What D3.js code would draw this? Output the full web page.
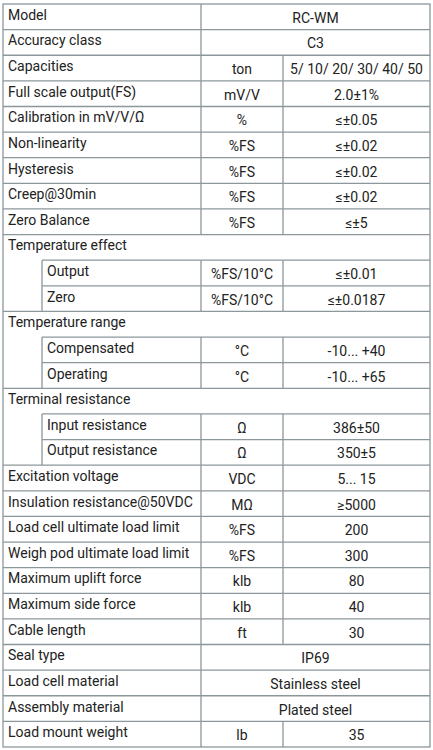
<!DOCTYPE html>
<html><head><meta charset="utf-8">
<script src="https://cdn.jsdelivr.net/npm/d3@7"></script>
<style>body{margin:0;background:#fff}</style></head><body>
<svg id="c" width="433" height="750"></svg>
<script>
const labels=["Model","Accuracy class","Capacities","Full scale output(FS)","Calibration in mV/V/Ω","Non-linearity","Hysteresis","Creep@30min","Zero Balance","Temperature effect","Output","Zero","Temperature range","Compensated","Operating","Terminal resistance","Input resistance","Output resistance","Excitation voltage","Insulation resistance@50VDC","Load cell ultimate load limit","Weigh pod ultimate load limit","Maximum uplift force","Maximum side force","Cable length","Seal type","Load cell material","Assembly material","Load mount weight"];
const units=["","","ton","mV/V","%","%FS","%FS","%FS","%FS","","%FS/10°C","%FS/10°C","","°C","°C","","Ω","Ω","VDC","MΩ","%FS","%FS","klb","klb","ft","","","","lb"];
const values=["RC-WM","C3","5/ 10/ 20/ 30/ 40/ 50","2.0±1%","≤±0.05","≤±0.02","≤±0.02","≤±0.02","≤±5","","≤±0.01","≤±0.0187","","-10... +40","-10... +65","","386±50","350±5","5... 15","≥5000","200","300","80","40","30","IP69","Stainless steel","Plated steel","35"];
// kind: n normal, m merged value, h header, s sub-row
const kinds=["m","m","n","n","n","n","n","n","n","h","s","s","h","s","s","h","s","s","n","n","n","n","n","n","n","m","m","m","n"];
const cols=["edge","indent","unit","value","end"];
const x=d3.scaleOrdinal().domain(cols).range([3,42,201,283,430]);
const y=d3.scaleBand().domain(d3.range(labels.length)).range([4,747]);
const svg=d3.select("#c");
const col="#8c979c", sw=1.3;
const g=svg.append("g").attr("stroke",col).attr("stroke-width",sw);
const rows=d3.range(labels.length);
const line=(x1,y1,x2,y2)=>g.append("line").attr("x1",x1).attr("y1",y1).attr("x2",x2).attr("y2",y2);
// outer
g.append("rect").attr("x",x("edge")).attr("y",y(0)).attr("width",x("end")-x("edge")).attr("height",y.range()[1]-y(0)).attr("fill","none");
rows.forEach(i=>{
  const t=y(i),b=t+y.bandwidth(),k=kinds[i];
  if(i>0){
    const nextIsSub=k==="s";
    line(nextIsSub?x("indent"):x("edge"),t,x("end"),t);
  }
  if(k==="s") line(x("indent"),t,x("indent"),b);
  if(k==="n"||k==="s"){line(x("unit"),t,x("unit"),b);line(x("value"),t,x("value"),b);}
  if(k==="m") line(x("unit"),t,x("unit"),b);
});
const tg=svg.append("g").attr("font-family","Roboto, 'Liberation Sans', sans-serif").attr("font-size",14).attr("fill","#222");
rows.forEach(i=>{
  const ty=y(i)+y.bandwidth()/2+3,k=kinds[i];
  tg.append("text").attr("x",(k==="s"?x("indent"):x("edge"))+5).attr("y",ty).text(labels[i]);
  if(k==="n"||k==="s"){
    tg.append("text").attr("x",(x("unit")+x("value"))/2).attr("y",ty+3).attr("text-anchor","middle").text(units[i]);
    tg.append("text").attr("x",(x("value")+x("end"))/2).attr("y",ty+3).attr("text-anchor","middle").text(values[i]);
  }
  if(k==="m") tg.append("text").attr("x",(x("unit")+x("end"))/2).attr("y",ty+3).attr("text-anchor","middle").text(values[i]);
});
</script></body></html>
